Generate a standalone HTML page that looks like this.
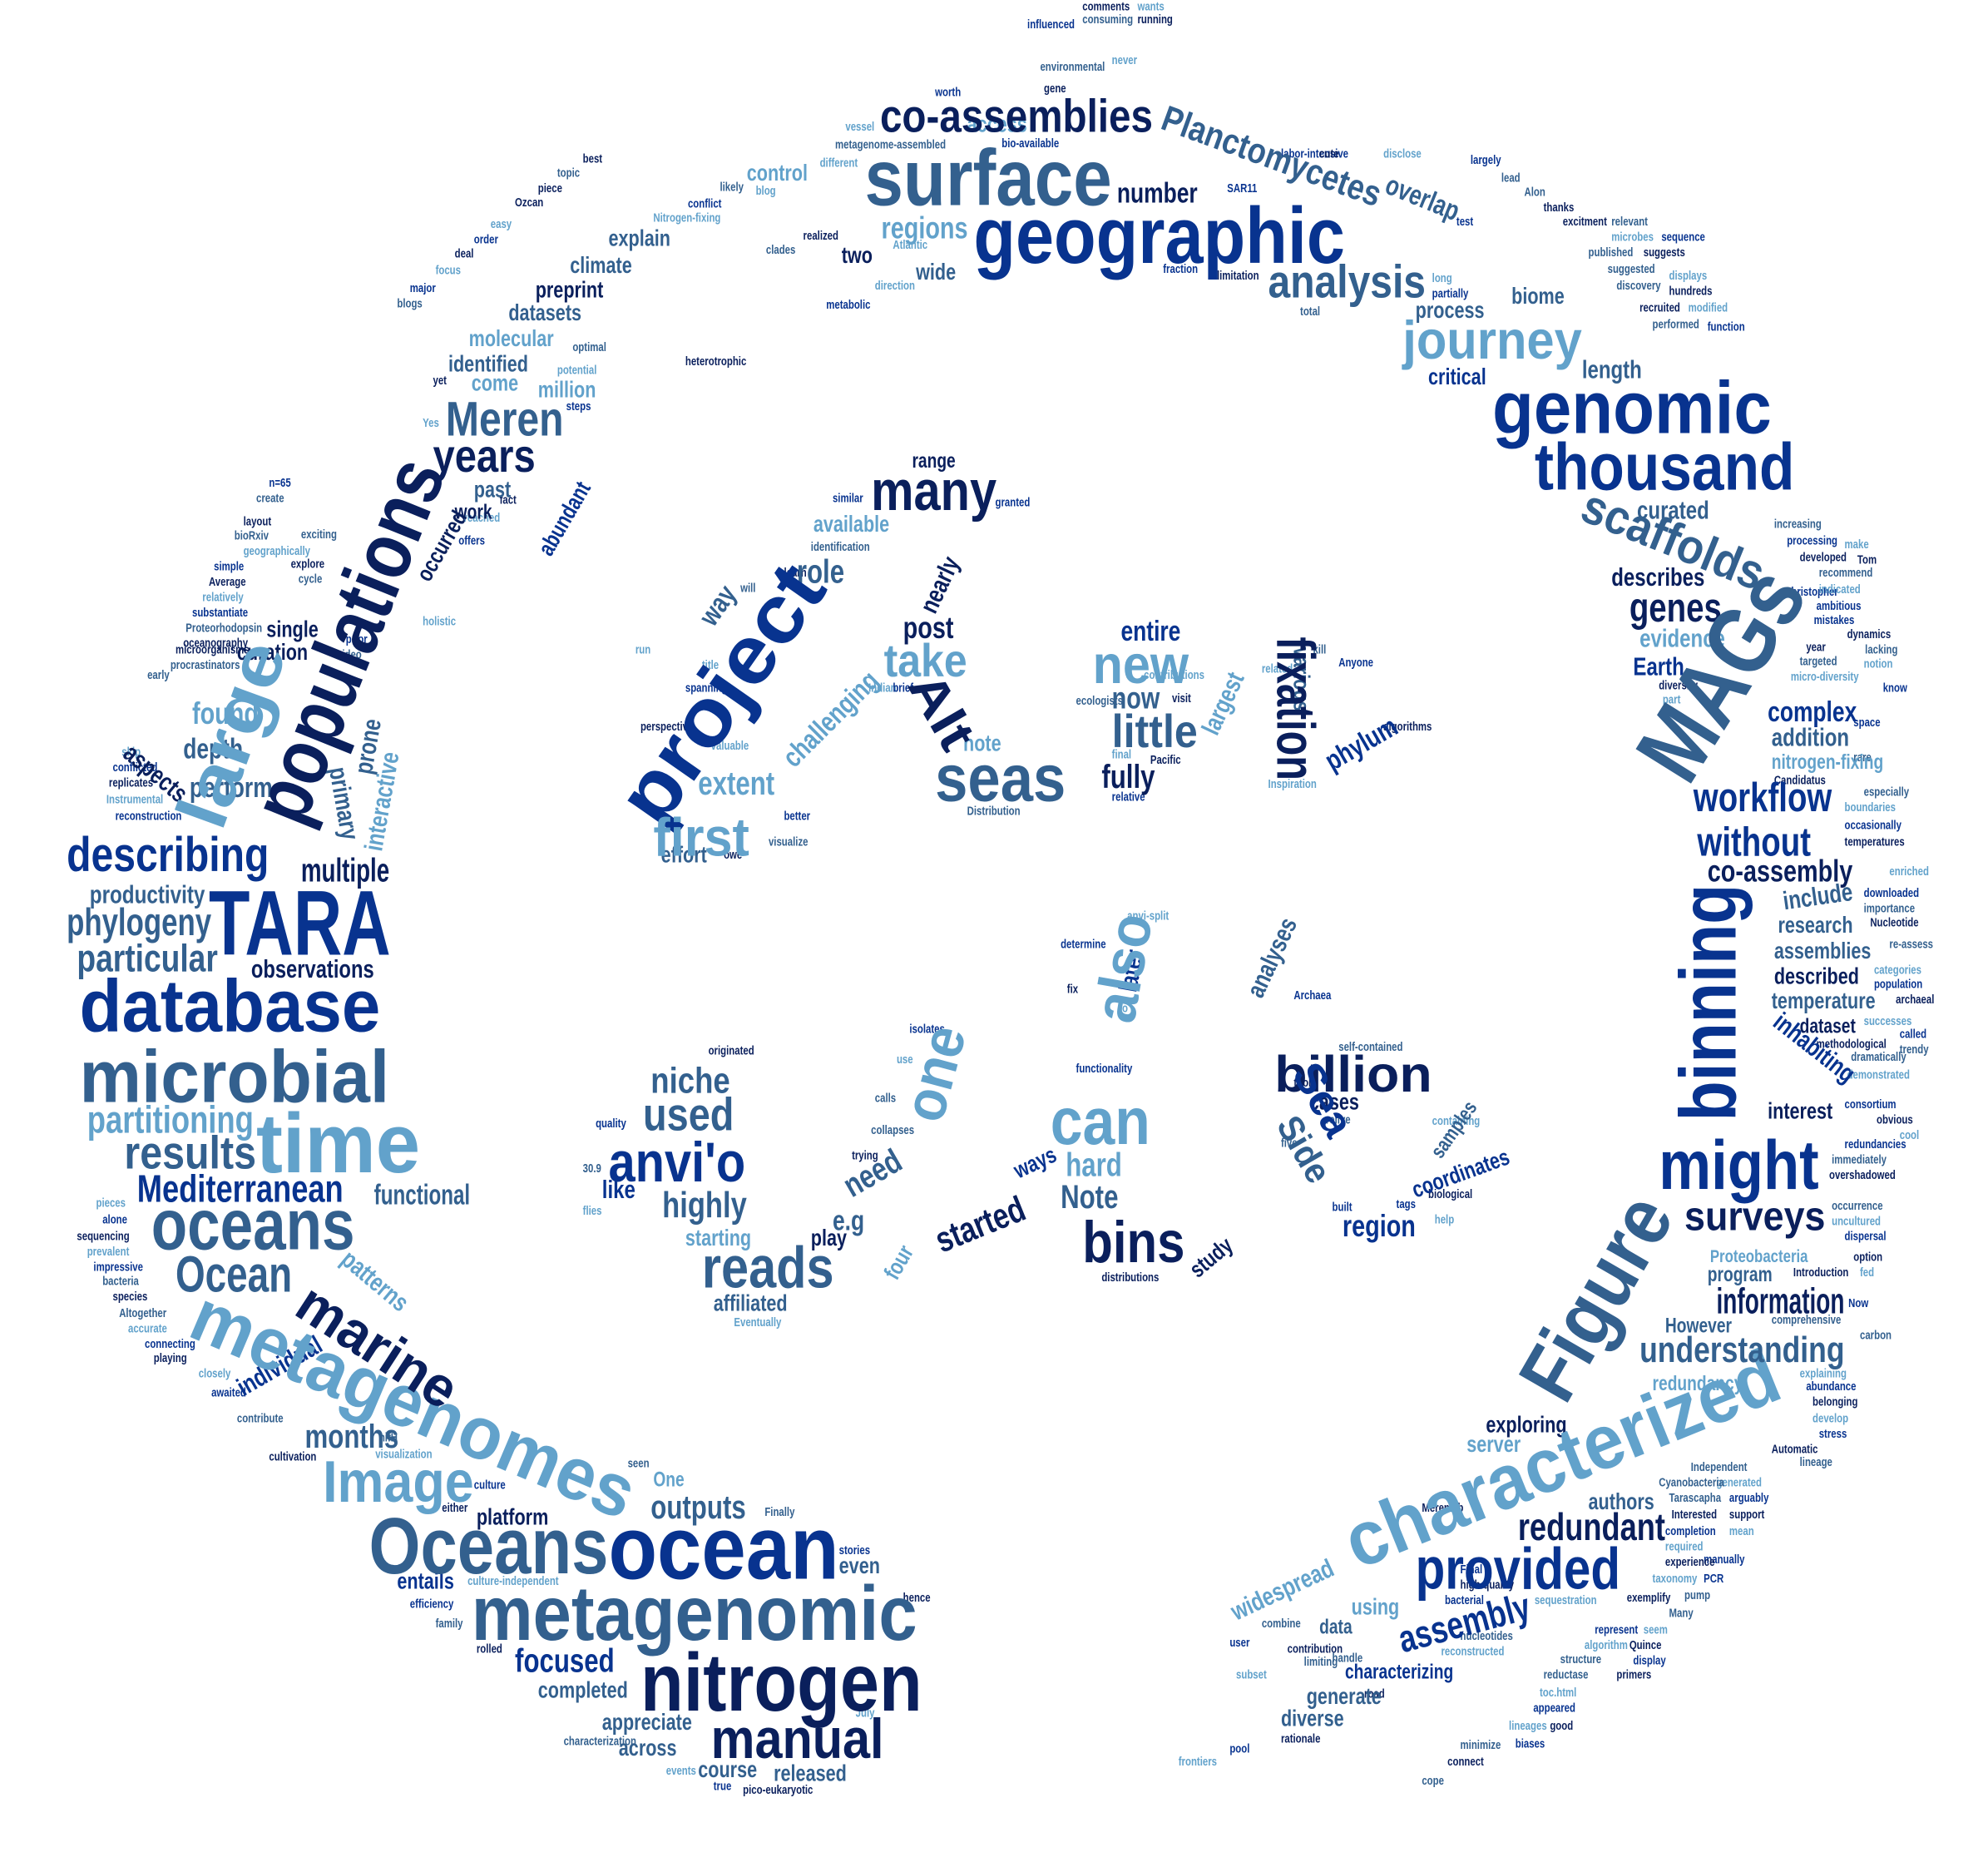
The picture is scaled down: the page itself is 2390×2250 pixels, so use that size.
<!DOCTYPE html>
<html><head><meta charset="utf-8">
<style>
html,body{margin:0;padding:0;background:#fff;}
svg{display:block;}
text{font-family:"Liberation Sans Narrow","Liberation Sans",sans-serif;font-weight:bold;}
</style></head>
<body>
<svg id="cloud" width="2390" height="2250" viewBox="0 0 1552 1461" xmlns="http://www.w3.org/2000/svg">
<rect width="1552" height="1461" fill="#fff"/>
</svg>
<script>
const palette = ["#0a1f5c", "#08338f", "#33608e", "#62a2cb"];
// [text, x, y, size, rotation, colorIndex, width]
const bigWords = [
["surface",675,160,62,0,2,193],["geographic",760,205,62,0,1,290],["co-assemblies",687,103,36,0,0,213],
["genomic",1165,338,58,0,1,218],["thousand",1198,382,52,0,1,203],["journey",1095,280,42,0,3,140],
["analysis",990,232,36,0,2,123],["Planctomycetes",905,100,28,20,2,180],["overlap",1080,150,22,22,2,60],
["scaffolds",1232,405,38,22,2,150],["MAGs",1318,615,74,-58,2,178],["binning",1355,875,62,-90,1,185],
["fixation",997,497,42,90,0,112],["might",1295,928,54,0,1,125],["surveys",1315,960,32,0,0,110],
["Figure",1222,1098,64,-60,2,172],["characterized",1060,1225,60,-22,3,360],["provided",1105,1240,46,0,1,160],
["redundant",1185,1202,30,0,0,115],["information",1340,1025,28,0,0,100],["understanding",1280,1063,28,0,2,160],
["assembly",1095,1290,30,-15,1,105],["TARA",163,745,72,0,1,142],["database",62,805,58,0,1,235],
["microbial",62,860,58,0,2,242],["time",200,915,66,0,3,128],["oceans",118,975,56,0,2,159],
["Ocean",137,1008,40,0,2,91],["results",97,912,36,0,2,103],["Mediterranean",107,938,30,0,1,161],
["partitioning",68,884,30,0,3,130],["functional",292,940,22,0,2,75],["describing",52,680,38,0,1,158],
["multiple",235,688,26,0,0,69],["phylogeny",52,730,30,0,2,113],["particular",60,758,30,0,2,110],
["productivity",70,705,20,0,2,90],["observations",196,763,20,0,0,96],["populations",236,647,64,-68,0,300],
["large",173,650,56,-70,3,150],["metagenomes",145,1042,58,23,3,370],["marine",228,1025,44,33,0,140],
["Image",252,1172,46,0,3,118],["Oceans",288,1228,62,0,2,187],["ocean",475,1232,70,0,1,180],
["metagenomic",368,1280,60,0,2,348],["nitrogen",500,1335,64,0,0,220],["manual",555,1372,44,0,0,135],
["project",515,648,64,-55,1,230],["many",680,398,44,0,0,98],["first",510,668,42,0,3,75],
["seas",730,625,52,0,2,102],["Alt",708,535,40,60,0,62],["take",690,528,36,0,3,65],
["little",868,583,36,0,2,67],["new",853,533,42,0,3,75],["can",820,893,52,0,3,78],
["bins",845,985,46,0,0,80],["billion",995,852,40,0,0,123],["anvi'o",475,922,44,0,1,107],
["reads",548,1005,46,0,2,103],["used",502,882,36,0,2,71],["niche",508,853,28,0,2,62],
["highly",517,950,28,0,2,66],["one",735,878,46,-75,3,75],["also",885,800,46,-80,3,85],
["Meren",348,340,38,0,2,92],["years",338,368,36,0,0,80],["Sea",1008,838,34,60,1,60],["Side",996,878,28,60,2,55]
];
const midWords = [
["past",370,388,18,0,2],["work",355,405,16,0,0],["preprint",418,232,18,0,0],["datasets",397,250,18,0,2],
["climate",445,213,18,0,2],["explain",475,192,18,0,2],["molecular",366,270,18,0,3],["identified",350,290,18,0,2],
["million",420,310,18,0,3],["come",368,305,18,0,3],["number",872,158,22,0,0],["regions",688,186,24,0,3],
["two",657,205,18,0,0],["wide",715,218,18,0,2],["control",583,141,18,0,3],["access",755,103,18,0,3],
["process",1105,248,18,0,2],["biome",1180,237,18,0,2],["length",1235,295,20,0,2],["critical",1115,300,18,0,1],
["curated",1278,405,20,0,2],["describes",1258,457,20,0,0],["genes",1272,485,32,0,0],["evidence",1280,505,20,0,3],
["Earth",1275,527,20,0,1],["complex",1380,563,22,0,1],["addition",1383,582,20,0,2],["nitrogen-fixing",1383,600,16,0,3],
["workflow",1322,633,32,0,1],["without",1325,668,32,0,1],["co-assembly",1333,688,24,0,0],["include",1393,710,20,-8,2],
["research",1388,728,18,0,2],["assemblies",1385,748,18,0,2],["described",1385,768,18,0,0],["temperature",1383,787,18,0,2],
["dataset",1405,806,16,0,0],["interest",1380,873,18,0,0],["program",1333,1000,16,0,2],["Proteobacteria",1335,985,14,0,3],
["However",1300,1040,16,0,2],["redundancy",1290,1085,16,0,3],["exploring",1160,1118,18,0,0],["server",1145,1133,18,0,3],
["authors",1240,1178,18,0,2],["data",1030,1275,16,0,2],["using",1055,1260,18,0,3],["generate",1020,1330,18,0,2],
["characterizing",1050,1310,16,0,1],["diverse",1000,1347,18,0,2],["even",655,1228,18,0,2],["entails",310,1240,18,0,1],
["platform",372,1190,18,0,0],["outputs",508,1185,26,0,2],["focused",402,1305,26,0,1],["completed",420,1325,18,0,2],
["appreciate",470,1350,18,0,2],["across",483,1370,18,0,2],["course",545,1387,18,0,2],["released",604,1390,18,0,2],
["months",238,1130,26,0,2],["extent",545,620,26,0,3],["effort",516,673,18,0,2],["post",705,498,24,0,0],
["now",868,553,24,0,2],["entire",875,500,22,0,1],["fully",860,615,26,0,0],["note",752,586,18,0,3],
["hard",832,918,26,0,3],["Note",828,943,26,0,2],["cases",1022,866,18,0,0],["like",470,935,20,0,1],
["affiliated",557,1023,18,0,2],["starting",535,972,18,0,3],["e.g",650,960,22,0,2],["play",633,972,18,0,0],
["role",622,455,26,0,2],["range",712,365,16,0,0],["available",635,415,18,0,3],["region",1048,965,24,0,1],
["need",665,935,26,-30,2],["started",735,978,28,-22,0],["study",935,998,18,-40,0],["coordinates",1105,935,18,-20,1],
["samples",1125,905,16,-55,2],["widespread",965,1265,20,-25,3],["occurred",335,455,18,-60,0],["abundant",430,435,18,-60,1],
["interactive",298,665,20,-80,3],["primary",257,600,20,80,2],["prone",290,605,20,-80,2],["aspects",95,590,20,40,0],
["analyses",985,780,20,-65,2],["later",887,775,20,-80,1],["inhabiting",1383,800,20,38,1],["challenging",620,600,22,-45,3],
["largest",950,575,20,-65,3],["phylum",1040,602,22,-30,1],["various",1010,505,18,90,2],["way",557,490,22,-55,2],
["nearly",730,480,20,-65,0],["found",150,565,24,0,3],["depth",143,592,22,0,2],["perform",148,622,22,0,2],
["single",208,497,18,0,0],["curation",185,515,18,0,0],["individual",190,1090,20,-30,1],["patterns",265,985,20,40,3],
["One",510,1160,16,0,3],["four",700,1000,18,-60,3],["ways",795,920,18,-25,1]
];
const smallWords = [
["comments",845,8],["wants",888,8],["influenced",802,22],["consuming",845,18],["running",888,18],["environmental",812,55],
["never",868,50],["worth",730,75],["gene",815,72],["vessel",660,102],["bio-available",782,115],["metagenome-assembled",652,116],
["best",455,127],["topic",435,138],["different",640,130],["labor-intensive",1000,123],["cute",1030,123],["disclose",1080,123],
["largely",1148,128],["lead",1172,142],["piece",420,150],["likely",562,149],["blog",590,152],["conflict",537,162],
["Ozcan",402,161],["Nitrogen-fixing",510,173],["SAR11",958,150],["Alon",1190,153],["thanks",1205,165],["relevant",1258,176],
["easy",383,178],["order",370,190],["deal",355,201],["focus",340,214],["major",320,228],["blogs",310,240],
["realized",627,187],["clades",598,198],["Atlantic",697,194],["test",1137,176],["excitment",1220,176],["microbes",1258,188],
["sequence",1297,188],["published",1240,200],["suggests",1283,200],["suggested",1255,213],["displays",1303,218],["fraction",908,213],
["limitation",950,218],["long",1118,220],["partially",1118,232],["total",1015,246],["hundreds",1303,230],["discovery",1262,226],
["direction",683,226],["metabolic",645,241],["recruited",1280,243],["modified",1318,243],["function",1333,258],["performed",1290,256],
["heterotrophic",535,285],["optimal",447,274],["potential",435,292],["steps",442,320],["yet",338,300],["Yes",330,333],
["n=65",210,380],["create",200,392],["layout",190,410],["bioRxiv",183,421],["geographically",190,433],["simple",167,445],
["Average",163,457],["relatively",158,469],["substantiate",150,481],["Proteorhodopsin",145,493],["microorganisms",137,510],["early",115,530],
["skip",95,590],["conflicted",88,602],["replicates",85,614],["Instrumental",83,627],["reconstruction",90,640],["exciting",235,420],
["explore",227,443],["cycle",233,455],["reached",362,407],["offers",358,425],["fact",390,393],["holistic",330,488],
["prior",270,502],["video",263,514],["oceanography",143,505],["procrastinators",133,522],["run",496,510],["Christopher",1393,465],
["Tom",1450,440],["make",1440,428],["processing",1395,425],["increasing",1385,412],["developed",1405,438],["recommend",1420,450],
["indicated",1420,463],["ambitious",1418,476],["dynamics",1442,498],["notion",1455,521],["mistakes",1416,487],["lacking",1456,510],
["year",1410,508],["targeted",1405,519],["micro-diversity",1398,531],["know",1470,540],["diversity",1295,538],["part",1298,549],
["space",1447,567],["rare",1447,594],["Candidatus",1385,612],["especially",1455,621],["boundaries",1440,633],["occasionally",1440,647],
["temperatures",1440,660],["enriched",1475,683],["downloaded",1455,700],["importance",1455,712],["Nucleotide",1460,723],["re-assess",1475,740],
["categories",1463,760],["population",1463,771],["archaeal",1480,783],["successes",1455,800],["called",1483,810],["trendy",1483,822],
["methodological",1418,818],["dramatically",1445,828],["demonstrated",1442,842],["consortium",1440,865],["obvious",1465,877],["cool",1483,889],
["redundancies",1440,896],["immediately",1430,908],["overshadowed",1428,920],["occurrence",1430,944],["uncultured",1430,956],["dispersal",1440,968],
["option",1447,984],["fed",1452,996],["Now",1443,1020],["comprehensive",1383,1033],["Introduction",1400,996],["carbon",1452,1045],
["explaining",1405,1075],["abundance",1410,1085],["belonging",1415,1097],["develop",1415,1110],["stress",1420,1122],["lineage",1405,1144],
["Automatic",1383,1134],["Independent",1320,1148],["generated",1340,1160],["arguably",1350,1172],["support",1350,1185],["mean",1350,1198],
["completion",1300,1198],["Tarascapha",1303,1172],["Interested",1305,1185],["Cyanobacteria",1295,1160],["required",1300,1210],["manually",1330,1220],
["experience",1300,1222],["taxonomy",1290,1235],["PCR",1330,1235],["pump",1315,1248],["exemplify",1270,1250],["Many",1303,1262],
["seem",1283,1275],["represent",1245,1275],["Quince",1272,1287],["algorithm",1237,1287],["display",1275,1299],["structure",1218,1298],
["primers",1262,1310],["reductase",1205,1310],["toc.html",1202,1324],["appeared",1197,1336],["good",1210,1350],["lineages",1178,1350],
["biases",1183,1364],["minimize",1140,1365],["connect",1130,1378],["cope",1110,1393],["frontiers",920,1378],["pool",960,1368],
["rationale",1000,1360],["subset",965,1310],["user",960,1285],["handle",1040,1297],["road",1065,1325],["nucleotides",1140,1280],
["reconstructed",1125,1292],["bacterial",1128,1252],["high-quality",1140,1240],["sequestration",1198,1252],["Final",1140,1228],["combine",985,1270],
["contribution",1005,1290],["limiting",1018,1300],["pieces",75,942],["alone",80,955],["sequencing",60,968],["prevalent",68,980],
["impressive",73,992],["bacteria",80,1003],["species",88,1015],["Altogether",93,1028],["accurate",100,1040],["connecting",113,1052],
["playing",120,1063],["closely",155,1075],["awaited",165,1090],["contribute",185,1110],["cultivation",210,1140],["nifH",296,1125],
["visualization",293,1138],["culture",370,1162],["either",345,1180],["culture-independent",365,1237],["efficiency",320,1255],["family",340,1270],
["rolled",372,1290],["characterization",440,1362],["events",520,1385],["true",557,1397],["pico-eukaryotic",580,1400],["July",668,1340],
["stories",655,1213],["Finally",597,1183],["hence",705,1250],["seen",490,1145],["Indian",678,540],["brief",697,540],
["Pacific",898,596],["final",868,592],["relative",868,625],["Distribution",755,636],["visit",915,548],["kill",1025,510],
["contributions",893,530],["isolates",710,806],["originated",553,823],["flies",455,948],["functionality",840,837],["relive",1035,877],
["tools",1010,848],["self-contained",1045,820],["containing",1118,878],["tags",1090,943],["biological",1115,935],["help",1120,955],
["built",1040,945],["five",1000,895],["distributions",860,1000],["calls",683,860],["anvi-split",880,718],["determine",828,740],
["fix",833,775],["o",876,790],["similar",650,392],["identification",633,430],["learn",612,450],["will",578,462],
["title",548,522],["spanning",535,540],["perspective",500,570],["valuable",555,585],["better",612,640],["visualize",600,660],
["owe",565,670],["ecologists",840,550],["related",985,525],["Anyone",1045,520],["algorithms",1080,570],["Inspiration",990,615],
["quality",465,880],["30.9",455,915],["trying",665,905],["collapses",680,885],["use",700,830],["Archaea",1010,780],
["Merenlab",1110,1180],["Eventually",573,1035],["granted",777,395]
];
const smallColors = [0,3,1,2,0,2,3,1];
const svg = document.getElementById('cloud');
const NS = "http://www.w3.org/2000/svg";
function slug(s){return s.toLowerCase().replace(/[^a-z0-9]+/g,'-').replace(/^-|-$/g,'')||'word';}
function addWord(t,x,y,size,rot,ci,w){
  const el = document.createElementNS(NS,'text');
  el.setAttribute('x',x);
  el.setAttribute('y',y);
  el.setAttribute('font-size',size);
  el.setAttribute('fill',palette[ci]);
  if(rot) el.setAttribute('transform','rotate('+rot+' '+x+' '+y+')');
  el.textContent = t;
  
  
  svg.appendChild(el);
  let L = w;
  if(!L){ try{ L = el.getComputedTextLength()*0.78; }catch(e){ L = 0; } }
  if(L){ el.setAttribute('textLength',L); el.setAttribute('lengthAdjust','spacingAndGlyphs'); }
}
smallWords.forEach((d,i)=>addWord(d[0],d[1],d[2],9.5,0,smallColors[i%smallColors.length],0));
midWords.forEach(d=>addWord(d[0],d[1],d[2],d[3],d[4],d[5],0));
bigWords.forEach(d=>addWord(d[0],d[1],d[2],d[3],d[4],d[5],d[6]));
</script>
</body></html>
